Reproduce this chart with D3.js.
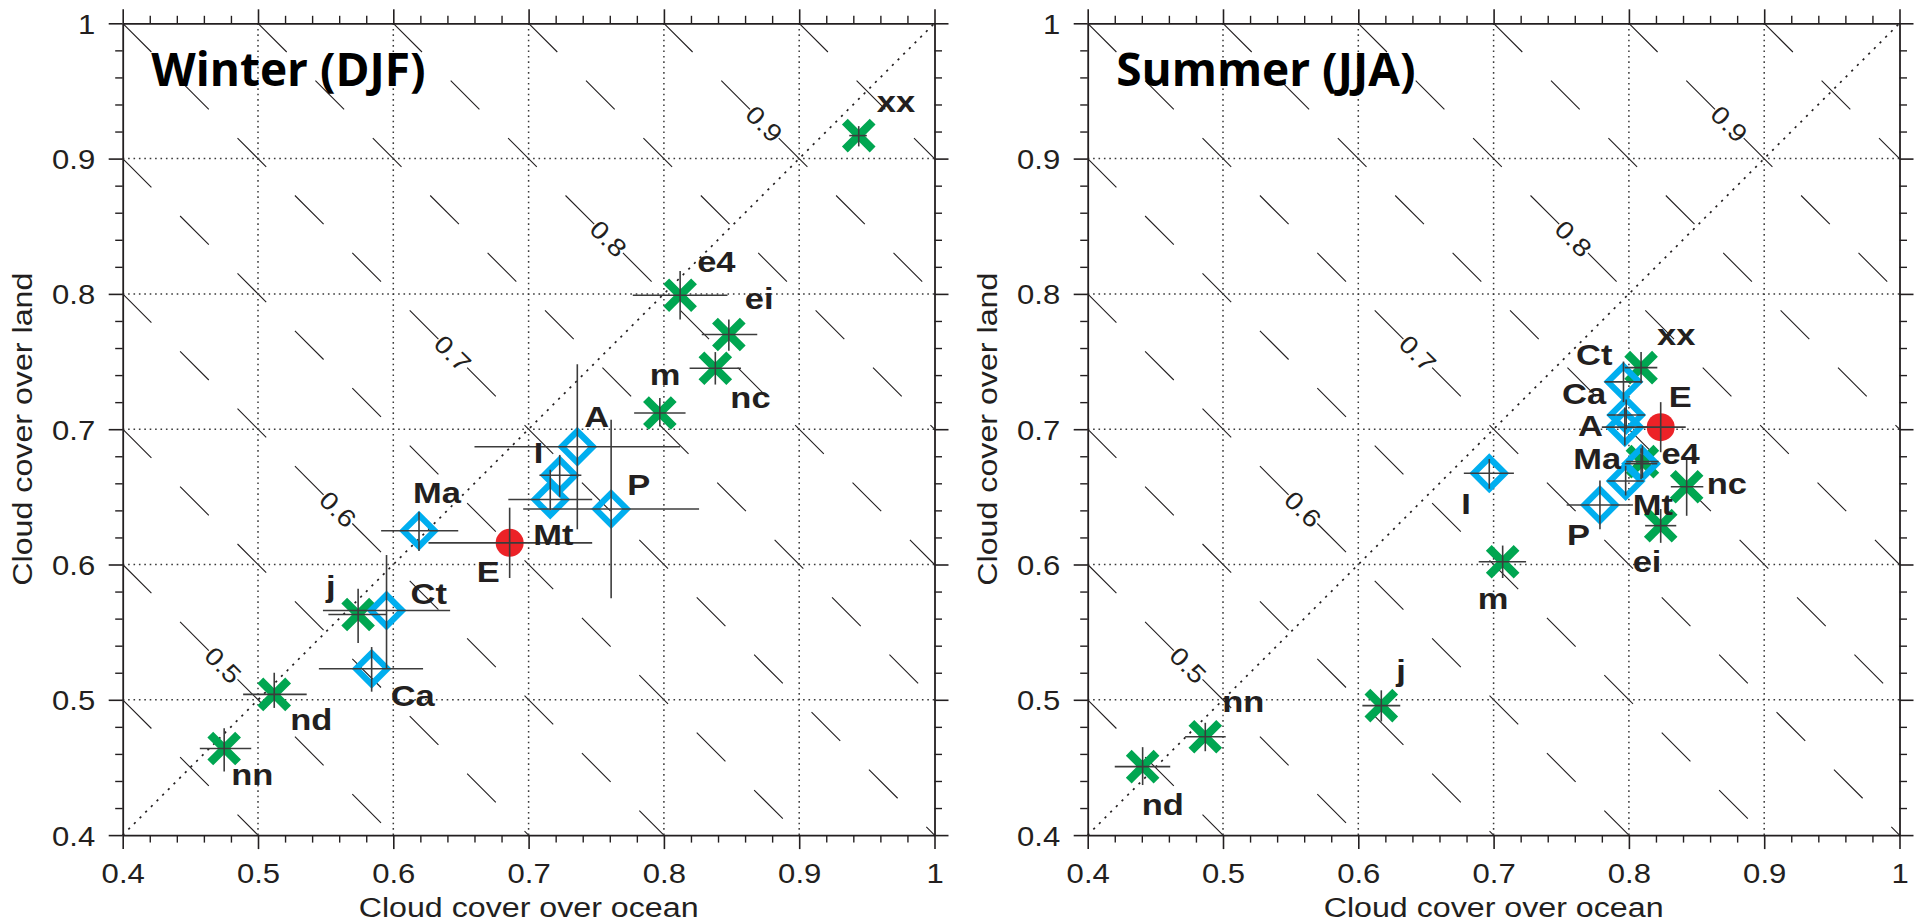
<!DOCTYPE html>
<html>
<head>
<meta charset="utf-8">
<title>Cloud cover over land vs. ocean</title>
<script src="https://cdn.jsdelivr.net/npm/d3@7"></script>
<style>
  html, body { margin: 0; padding: 0; background: #ffffff; }
  svg { display: block; }
</style>
</head>
<body>
<svg id="chart" width="1915" height="922"></svg>
<script>
// ---------------------------------------------------------------------------
// Data
// ---------------------------------------------------------------------------
const tickValues = [0.4, 0.5, 0.6, 0.7, 0.8, 0.9, 1.0];
const tickLabels = ["0.4", "0.5", "0.6", "0.7", "0.8", "0.9", "1"];

// Iso-lines of mean cloud cover (equal land / ocean weight) and the labelled ones
const contourLevels = [0.45, 0.5, 0.55, 0.6, 0.65, 0.7, 0.75, 0.8, 0.85, 0.9, 0.95];
const contourLabelLevels = [0.5, 0.6, 0.7, 0.8, 0.9];

// Marker families
const crossModels = ["xx", "e4", "ei", "nc", "m", "j", "nd", "nn"];
const diamondModels = ["A", "I", "Mt", "P", "Ma", "Ct", "Ca"];
const observation = "E";

// Winter (DJF)
const winterNames   = ["xx",  "e4",  "ei",  "nc",  "m",   "A",   "I",   "Mt",  "P",   "E",   "Ma",  "Ct",  "j",   "Ca",  "nd",  "nn"];
const winterOcean   = [0.944, 0.812, 0.848, 0.838, 0.797, 0.736, 0.723, 0.716, 0.761, 0.686, 0.619, 0.595, 0.574, 0.584, 0.512, 0.475];
const winterLand    = [0.917, 0.799, 0.770, 0.745, 0.712, 0.687, 0.666, 0.648, 0.641, 0.616, 0.625, 0.566, 0.563, 0.523, 0.504, 0.464];
const winterOceanLo = [0.937, 0.777, 0.828, 0.819, 0.778, 0.660, 0.708, 0.685, 0.696, 0.626, 0.591, 0.548, 0.552, 0.545, 0.489, 0.457];
const winterOceanHi = [0.950, 0.847, 0.869, 0.857, 0.816, 0.812, 0.739, 0.747, 0.826, 0.747, 0.648, 0.642, 0.595, 0.622, 0.536, 0.495];
const winterLandLo  = [0.909, 0.781, 0.758, 0.733, 0.702, 0.626, 0.650, 0.640, 0.575, 0.590, 0.610, 0.523, 0.542, 0.506, 0.494, 0.447];
const winterLandHi  = [0.924, 0.817, 0.781, 0.757, 0.723, 0.748, 0.681, 0.670, 0.707, 0.642, 0.639, 0.607, 0.582, 0.539, 0.520, 0.479];

// Summer (JJA)
const summerNames   = ["xx",   "Ct",  "Ca",   "A",    "E",    "e4",  "Ma",   "Mt",   "P",    "nc",   "ei",   "I",    "m",    "j",   "nn",   "nd"];
const summerOcean   = [0.809,  0.796, 0.798,  0.797,  0.8235, 0.810, 0.809,  0.7976, 0.7786, 0.8427, 0.8235, 0.6968, 0.7067, 0.617, 0.4869, 0.4406];
const summerLand    = [0.7455, 0.735, 0.7105, 0.7015, 0.7015, 0.676, 0.6745, 0.6617, 0.644,  0.6575, 0.6287, 0.6674, 0.602,  0.4957, 0.4727, 0.4506];
const summerOceanLo = [0.797,  0.782, 0.784,  0.780,  0.806,  0.798, 0.797,  0.784,  0.754,  0.831,  0.812,  0.678,  0.689,  0.603, 0.472,  0.420];
const summerOceanHi = [0.821,  0.810, 0.812,  0.814,  0.842,  0.822, 0.821,  0.811,  0.803,  0.855,  0.835,  0.715,  0.724,  0.631, 0.502,  0.461];
const summerLandLo  = [0.734,  0.720, 0.700,  0.688,  0.683,  0.664, 0.663,  0.651,  0.626,  0.636,  0.616,  0.656,  0.590,  0.484, 0.462,  0.437];
const summerLandHi  = [0.757,  0.750, 0.722,  0.716,  0.720,  0.688, 0.686,  0.673,  0.662,  0.679,  0.641,  0.678,  0.614,  0.507, 0.483,  0.465];

// ---------------------------------------------------------------------------
// Layout and styling
// ---------------------------------------------------------------------------
const plotTop = 23.3;
const plotSize = 811.8;
const panelLefts = [122.7, 1087.7];

const INK = "#231f20";
const GREEN = "#00a651";
const BLUE = "#00aeef";
const RED = "#ec2227";
const SANS = "'Liberation Sans', Arial, Helvetica, sans-serif";
const STRETCH = 1.15;   // horizontal widening of the Helvetica-like lettering

// label offsets (px from marker centre): [dx, dy, anchor]
const winterLabelPlacement = {
  xx: [18, -24, "start"], e4: [17, -23, "start"], ei: [16, -25, "start"], nc: [15, 40, "start"],
  m: [-10, -28, "start"], A: [7, -20, "start"], I: [-26, -12, "start"], Mt: [-17, 45, "start"],
  P: [16, -14, "start"], E: [-33, 39, "start"], Ma: [-6, -28, "start"], Ct: [24, -7, "start"],
  j: [-32, -18, "start"], Ca: [19, 37, "start"], nd: [16, 36, "start"], nn: [7, 36, "start"]
};
const summerLabelPlacement = {
  xx: [16, -23, "start"], Ct: [-11, -17, "end"], Ca: [-20, -11, "end"], E: [8, -20, "start"],
  A: [-22, 9, "end"], Ma: [-20, 5, "end"], e4: [19, 2, "start"], nc: [20, 7, "start"],
  Mt: [7, 34, "start"], I: [-28, 41, "start"], P: [-33, 40, "start"], ei: [-28, 46, "start"],
  m: [-25, 47, "start"], j: [15, -25, "start"], nn: [17, -25, "start"], nd: [-1, 48, "start"]
};
// approximate ocean positions where the iso-line labels sit
const contourLabelTargets = [0.475, 0.56, 0.645, 0.76, 0.875];

const seasons = [
  { title: "Winter (DJF)", names: winterNames, ocean: winterOcean, land: winterLand,
    oLo: winterOceanLo, oHi: winterOceanHi, lLo: winterLandLo, lHi: winterLandHi,
    place: winterLabelPlacement },
  { title: "Summer (JJA)", names: summerNames, ocean: summerOcean, land: summerLand,
    oLo: summerOceanLo, oHi: summerOceanHi, lLo: summerLandLo, lHi: summerLandHi,
    place: summerLabelPlacement }
];

const svg = d3.select("#chart");
const near = (a, b) => Math.abs(a - b) < 1e-9;

function axisGen(side, scale) {
  if (side === "bottom") return d3.axisBottom(scale);
  if (side === "top") return d3.axisTop(scale);
  if (side === "left") return d3.axisLeft(scale);
  return d3.axisRight(scale);
}

function drawAxes(g, x, y) {
  const minor = x.ticks(30).filter(v => !tickValues.some(t => near(t, v)));
  const fmt = v => tickLabels[tickValues.findIndex(t => near(t, v))];
  const sides = [
    { side: "bottom", scale: x, tr: `translate(0,${y(0.4)})` },
    { side: "top",    scale: x, tr: `translate(0,${y(1)})` },
    { side: "left",   scale: y, tr: `translate(${x(0.4)},0)` },
    { side: "right",  scale: y, tr: `translate(${x(1)},0)` }
  ];
  sides.forEach(s => {
    // minor ticks every 0.02
    const gm = g.append("g").attr("transform", s.tr)
      .call(axisGen(s.side, s.scale).tickValues(minor).tickSize(7.5).tickSizeOuter(0).tickFormat(""));
    gm.select(".domain").remove();
    gm.selectAll(".tick line").attr("stroke", INK).attr("stroke-width", 1.4);

    // major ticks every 0.1
    const withLabels = s.side === "bottom" || s.side === "left";
    const ga = g.append("g").attr("transform", s.tr)
      .call(axisGen(s.side, s.scale).tickValues(tickValues).tickSize(14).tickSizeOuter(0)
        .tickFormat(withLabels ? fmt : ""));
    ga.select(".domain").attr("stroke", INK).attr("stroke-width", 1.8);
    ga.selectAll(".tick line").attr("stroke", INK).attr("stroke-width", 1.6);
    const txt = ga.selectAll(".tick text")
      .attr("x", null).attr("y", null).attr("dy", null)
      .attr("font-family", SANS).attr("font-size", 27).attr("fill", INK);
    if (s.side === "bottom") {
      txt.attr("text-anchor", "middle").attr("transform", `translate(0,47.7) scale(${STRETCH},1)`);
    } else if (s.side === "left") {
      txt.attr("text-anchor", "end").attr("transform", `translate(-27.5,10) scale(${STRETCH},1)`);
    }
  });
}

function drawContours(g, x, y) {
  const dash = x(0.43) - x(0.4);            // dashes and gaps of 0.03 along each line
  const lines = g.append("g");
  contourLevels.forEach(c => {
    const s = 2 * c;                         // ocean + land = 2 * mean
    const x0 = Math.max(0.4, s - 1), x1 = Math.min(1, s - 0.4);
    lines.append("line")
      .attr("x1", x(x0)).attr("y1", y(s - x0))
      .attr("x2", x(x1)).attr("y2", y(s - x1))
      .attr("stroke", INK).attr("stroke-width", 1.1)
      .attr("stroke-dasharray", `${dash} ${dash}`);
  });
  // labels sit in the gaps of the dash pattern
  const step = 0.06 / Math.SQRT2, first = 0.045 / Math.SQRT2;
  contourLabelLevels.forEach((c, i) => {
    const s = 2 * c;
    const x0 = Math.max(0.4, s - 1);
    const k = Math.round((contourLabelTargets[i] - x0 - first) / step);
    const ox = x0 + first + k * step;
    g.append("text")
      .attr("transform", `translate(${x(ox)},${y(s - ox)}) rotate(45) scale(${STRETCH},1)`)
      .attr("text-anchor", "middle").attr("dy", "0.36em")
      .attr("font-family", SANS).attr("font-size", 25).attr("fill", INK)
      .text(d3.format(".1f")(c));
  });
}

function drawGrid(g, x, y) {
  const inner = tickValues.slice(1, -1);
  const grid = g.append("g").attr("stroke", "#3a3a3a").attr("stroke-width", 1.5)
    .attr("stroke-dasharray", "1.6 3.8");
  grid.selectAll(".gx").data(inner).join("line")
    .attr("x1", d => x(d)).attr("x2", d => x(d)).attr("y1", y(0.4)).attr("y2", y(1));
  grid.selectAll(".gy").data(inner).join("line")
    .attr("y1", d => y(d)).attr("y2", d => y(d)).attr("x1", x(0.4)).attr("x2", x(1));
  // 1:1 line
  g.append("line")
    .attr("x1", x(0.4)).attr("y1", y(0.4)).attr("x2", x(1)).attr("y2", y(1))
    .attr("stroke", INK).attr("stroke-width", 1.7).attr("stroke-dasharray", "2.2 5.8");
}

function drawPoints(g, x, y, season) {
  const pts = season.names.map((n, i) => ({
    name: n, ocean: season.ocean[i], land: season.land[i],
    oLo: season.oLo[i], oHi: season.oHi[i], lLo: season.lLo[i], lHi: season.lHi[i]
  }));
  const a = 13.9, r = 15.6;
  // crosses
  g.append("g").selectAll("path").data(pts.filter(p => crossModels.includes(p.name))).join("path")
    .attr("transform", p => `translate(${x(p.ocean)},${y(p.land)})`)
    .attr("d", `M${-a},${-a}L${a},${a}M${-a},${a}L${a},${-a}`)
    .attr("stroke", GREEN).attr("stroke-width", 8.2).attr("fill", "none");
  // diamonds
  g.append("g").selectAll("path").data(pts.filter(p => diamondModels.includes(p.name))).join("path")
    .attr("transform", p => `translate(${x(p.ocean)},${y(p.land)})`)
    .attr("d", `M0,${-r}L${r},0L0,${r}L${-r},0Z`)
    .attr("stroke", BLUE).attr("stroke-width", 6.2).attr("fill", "none")
    .attr("stroke-linejoin", "miter");
  // observations
  g.append("g").selectAll("circle").data(pts.filter(p => p.name === observation)).join("circle")
    .attr("cx", p => x(p.ocean)).attr("cy", p => y(p.land)).attr("r", 14).attr("fill", RED);

  // uncertainty ranges
  const eb = g.append("g").attr("stroke", "#3c3c3c").attr("stroke-width", 1.6);
  eb.selectAll(".h").data(pts).join("line")
    .attr("x1", p => x(p.oLo)).attr("x2", p => x(p.oHi))
    .attr("y1", p => y(p.land)).attr("y2", p => y(p.land));
  eb.selectAll(".v").data(pts).join("line")
    .attr("x1", p => x(p.ocean)).attr("x2", p => x(p.ocean))
    .attr("y1", p => y(p.lLo)).attr("y2", p => y(p.lHi));

  // model labels
  g.append("g").selectAll("text").data(pts).join("text")
    .attr("transform", p => {
      const [dx, dy] = season.place[p.name];
      return `translate(${x(p.ocean) + dx},${y(p.land) + dy}) scale(${STRETCH},1)`;
    })
    .attr("text-anchor", p => season.place[p.name][2])
    .attr("font-family", SANS).attr("font-weight", "bold").attr("font-size", 30)
    .attr("fill", INK)
    .text(p => p.name);
}

seasons.forEach((season, si) => {
  const left = panelLefts[si];
  const x = d3.scaleLinear().domain([0.4, 1]).range([left, left + plotSize]);
  const y = d3.scaleLinear().domain([0.4, 1]).range([plotTop + plotSize, plotTop]);
  const g = svg.append("g");

  drawContours(g, x, y);
  drawGrid(g, x, y);
  drawAxes(g, x, y);
  drawPoints(g, x, y, season);

  // panel title
  g.append("text")
    .attr("x", left + 28.5).attr("y", 86)
    .attr("font-family", "'Open Sans', 'Noto Sans', sans-serif").attr("font-weight", 700)
    .attr("font-size", 46).attr("fill", "#000")
    .text(season.title);

  // axis titles
  g.append("text")
    .attr("transform", `translate(${(x(0.4) + x(1)) / 2},917) scale(${STRETCH},1)`)
    .attr("text-anchor", "middle")
    .attr("font-family", SANS).attr("font-size", 28).attr("fill", INK)
    .text("Cloud cover over ocean");
  g.append("text")
    .attr("transform", `translate(${x(0.4) - 91},${(y(0.4) + y(1)) / 2}) rotate(-90) scale(${STRETCH},1)`)
    .attr("text-anchor", "middle")
    .attr("font-family", SANS).attr("font-size", 28).attr("fill", INK)
    .text("Cloud cover over land");
});
</script>
</body>
</html>
